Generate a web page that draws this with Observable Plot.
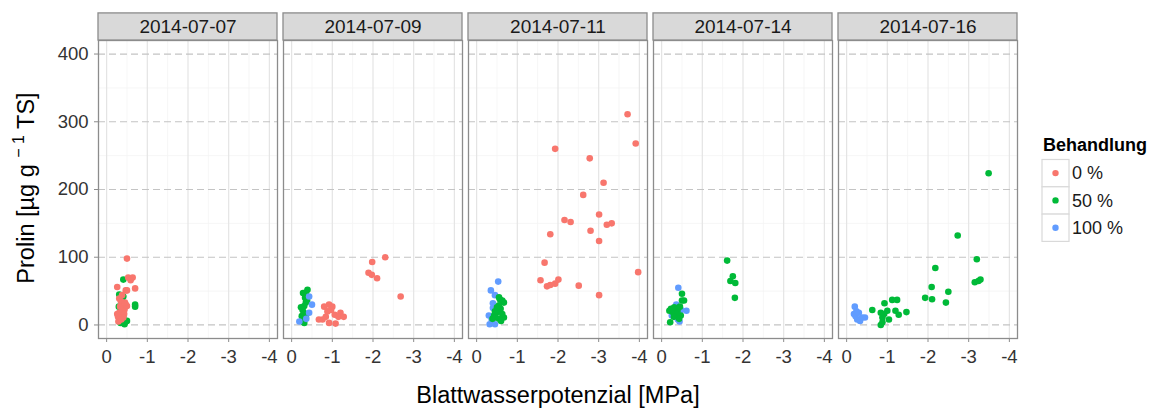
<!DOCTYPE html>
<html><head><meta charset="utf-8">
<script src="https://cdn.jsdelivr.net/npm/d3@7"></script>
<script src="https://cdn.jsdelivr.net/npm/@observablehq/plot@0.6"></script>
<style>
body{margin:0;background:#fff;}
#chart{position:relative;width:1154px;height:408px;}
</style></head><body><div id="chart"></div>
<script>
const dates = ["2014-07-07","2014-07-09","2014-07-11","2014-07-14","2014-07-16"];
const groups = ["0 %","50 %","100 %"];
const colors = ["#F8766D","#00BA38","#619CFF"];
const xTicks = [0,-1,-2,-3,-4];
const xMinor = [-0.5,-1.5,-2.5,-3.5];
const yTicks = [0,100,200,300,400];
const yMinor = [50,150,250,350];

// [Blattwasserpotenzial (MPa), Prolin (µg/g TS)]
const d0707_0 = [[-0.50,98],[-0.53,70],[-0.64,70],[-0.59,66],[-0.26,56],[-0.47,51],[-0.50,51],[-0.70,54],[-0.31,39],[-0.35,35],[-0.47,30],[-0.50,28],[-0.44,23],[-0.26,16],[-0.31,18],[-0.39,21],[-0.43,16],[-0.29,5],[-0.41,11],[-0.33,27],[-0.38,44],[-0.45,33],[-0.28,12],[-0.36,8]];
const d0707_50 = [[-0.41,67],[-0.31,45],[-0.41,42],[-0.30,27],[-0.70,30],[-0.70,27],[-0.41,12],[-0.47,5],[-0.44,1],[-0.38,36],[-0.34,3],[-0.50,6]];
const d0707_100 = [];

const d0709_0 = [[-1.98,93],[-2.30,100],[-1.89,77],[-1.97,74],[-2.10,69],[-2.68,42],[-0.80,27],[-0.92,30],[-1.00,27],[-0.84,12],[-0.76,8],[-0.67,8],[-0.92,3],[-1.08,2],[-1.06,15],[-1.20,18],[-1.15,12],[-1.28,12],[-0.88,20],[-0.97,22]];
const d0709_50 = [[-0.28,47],[-0.39,52],[-0.35,48],[-0.35,33],[-0.31,28],[-0.23,26],[-0.30,18],[-0.25,13],[-0.35,12],[-0.28,5],[-0.31,3],[-0.33,40],[-0.38,36],[-0.27,22]];
const d0709_100 = [[-0.43,42],[-0.50,30],[-0.43,18],[-0.19,5],[-0.36,9]];

const d0711_0 = [[-3.71,311],[-3.91,268],[-1.93,260],[-2.78,246],[-3.12,210],[-2.62,192],[-3.01,163],[-2.16,155],[-2.31,152],[-1.81,134],[-2.80,139],[-3.20,148],[-3.32,150],[-3.01,124],[-1.67,92],[-1.57,66],[-1.73,57],[-1.81,59],[-1.93,61],[-2.01,67],[-2.51,58],[-3.97,78],[-3.01,44]];
const d0711_100 = [[-0.53,64],[-0.35,51],[-0.45,44],[-0.40,32],[-0.40,25],[-0.32,1],[-0.45,1],[-0.37,8],[-0.30,14]];
const d0711_50 = [[-0.55,41],[-0.63,36],[-0.67,33],[-0.55,29],[-0.59,24],[-0.51,19],[-0.63,16],[-0.43,14],[-0.67,11],[-0.39,9],[-0.55,9],[-0.47,11],[-0.57,38],[-0.45,20],[-0.60,6],[-0.50,26]];

const d0714_0 = [];
const d0714_100 = [[-0.41,55],[-0.61,21],[-0.36,30],[-0.32,17],[-0.40,8],[-0.25,14],[-0.48,22],[-0.44,5]];
const d0714_50 = [[-1.61,95],[-1.75,72],[-1.69,65],[-1.81,62],[-1.80,40],[-0.50,46],[-0.50,36],[-0.55,36],[-0.23,24],[-0.31,26],[-0.39,21],[-0.19,21],[-0.27,19],[-0.35,16],[-0.47,14],[-0.43,9],[-0.21,4],[-0.45,27],[-0.30,12]];

const d0716_0 = [];
const d0716_100 = [[-0.20,27],[-0.18,16],[-0.22,13],[-0.26,8],[-0.33,6],[-0.45,11],[-0.38,11],[-0.30,18],[-0.24,20]];
const d0716_50 = [[-3.49,224],[-2.73,132],[-3.20,97],[-2.18,84],[-3.15,63],[-3.24,65],[-3.29,67],[-2.09,56],[-2.50,49],[-1.93,40],[-2.10,38],[-2.44,33],[-0.63,22],[-0.93,32],[-1.12,37],[-1.24,37],[-1.47,19],[-1.20,21],[-1.28,15],[-1.00,21],[-0.84,18],[-0.92,16],[-0.88,11],[-1.04,8],[-0.84,0],[-0.88,4]];

const series = [
  [dates[0], groups[1], d0707_50], [dates[0], groups[0], d0707_0], [dates[0], groups[2], d0707_100],
  [dates[1], groups[0], d0709_0], [dates[1], groups[1], d0709_50], [dates[1], groups[2], d0709_100],
  [dates[2], groups[0], d0711_0], [dates[2], groups[2], d0711_100], [dates[2], groups[1], d0711_50],
  [dates[3], groups[0], d0714_0], [dates[3], groups[2], d0714_100], [dates[3], groups[1], d0714_50],
  [dates[4], groups[0], d0716_0], [dates[4], groups[2], d0716_100], [dates[4], groups[1], d0716_50]
];
const points = series.flatMap(([date, g, arr]) => arr.map(([x, y]) => ({date, g, x, y})));

const FONT = '"Liberation Sans", Arial, sans-serif';
const BORDER = "#8c8c8c";

const plot = Plot.plot({
  width: 1154, height: 408,
  marginLeft: 96, marginRight: 134, marginTop: 40, marginBottom: 70,
  style: {fontFamily: FONT, background: "white", overflow: "visible"},
  fx: {domain: dates, paddingInner: 0.032, paddingOuter: 0, axis: null, label: null},
  x: {domain: [0.2, -4.2], label: null},
  y: {domain: [-20, 420], label: null},
  color: {domain: groups, range: colors},
  marks: [
    Plot.ruleX(xMinor, {stroke: "#f4f4f4", strokeWidth: 0.8}),
    Plot.ruleY(yMinor, {stroke: "#f4f4f4", strokeWidth: 0.8}),
    Plot.ruleX(xTicks, {stroke: "#e4e4e4", strokeWidth: 1.2}),
    Plot.ruleY(yTicks, {stroke: "#c4c4c4", strokeWidth: 1.2, strokeDasharray: "7,4"}),
    Plot.dot(points, {fx: "date", x: "x", y: "y", fill: "g", r: 3.3}),
    Plot.frame({stroke: BORDER, strokeWidth: 1.3}),
    Plot.rect(dates, {fx: d => d, x1: 0.2, x2: -4.2, y1: 420, y2: 460, fill: "#d9d9d9", stroke: BORDER, strokeWidth: 1.3, clip: false}),
    Plot.text(dates, {fx: d => d, frameAnchor: "top", lineAnchor: "middle", dy: -13.5, text: d => d, fontSize: 19, fill: "#1a1a1a"}),
    Plot.axisX({ticks: xTicks, tickSize: 4, tickPadding: 7, fontSize: 18.5, fill: "#333", stroke: BORDER, tickFormat: d => String(d), label: null}),
    Plot.axisY({ticks: yTicks, tickSize: 4, tickPadding: 6, fontSize: 18.5, fill: "#333", stroke: BORDER, label: null})
  ]
});

const svg = d3.select(plot);
svg.append("text")
  .attr("x", 558).attr("y", 403).attr("text-anchor", "middle")
  .attr("font-size", 23.5).attr("fill", "#000")
  .text("Blattwasserpotenzial [MPa]");
const yt = svg.append("text")
  .attr("transform", "translate(33.5,188) rotate(-90)")
  .attr("text-anchor", "middle").attr("font-size", 23.5).attr("fill", "#000");
yt.append("tspan").text("Prolin [µg g ");
yt.append("tspan").attr("dy", -10).attr("font-size", 16).text("− 1");
yt.append("tspan").attr("dy", 10).text(" TS]");

const lg = svg.append("g").attr("text-anchor", "start");
lg.append("text").attr("x", 1043).attr("y", 151)
  .attr("font-weight", "bold").attr("font-size", 18).attr("fill", "#000").text("Behandlung");
groups.forEach((g, i) => {
  const y0 = 159.5 + i * 27.3;
  lg.append("rect").attr("x", 1042).attr("y", y0).attr("width", 27).attr("height", 27.3)
    .attr("fill", "#fff").attr("stroke", "#d9d9d9").attr("stroke-width", 1.2);
  lg.append("circle").attr("cx", 1055.5).attr("cy", y0 + 13.6).attr("r", 3.2).attr("fill", colors[i]);
  lg.append("text").attr("x", 1072).attr("y", y0 + 13.6).attr("dy", "0.35em")
    .attr("font-size", 18).attr("fill", "#1a1a1a").text(g);
});

document.getElementById("chart").appendChild(plot);
</script></body></html>
